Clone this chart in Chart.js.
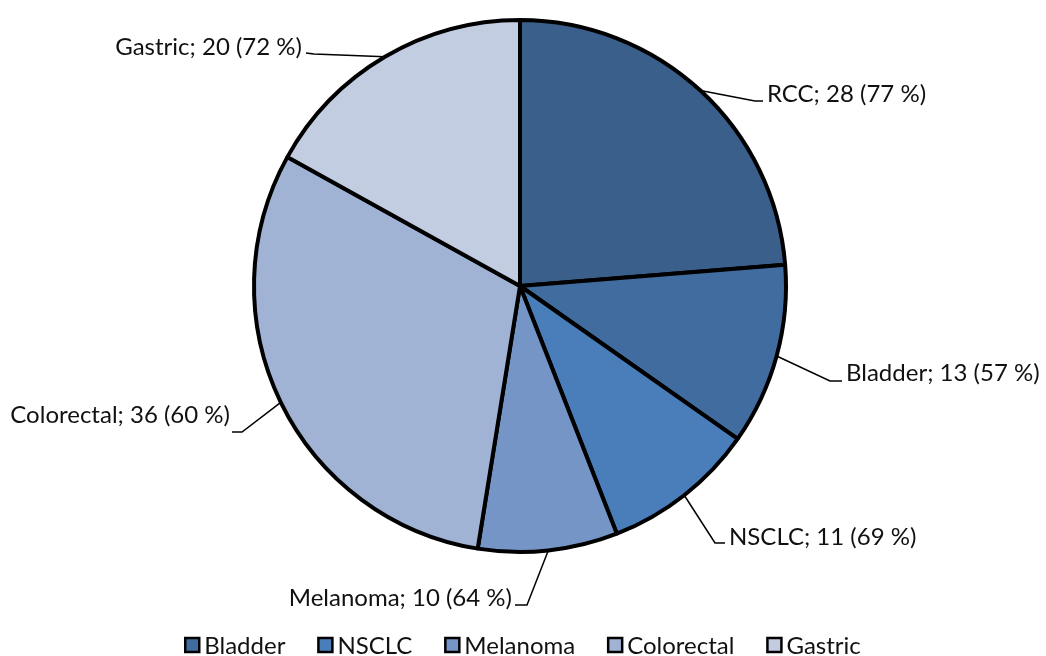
<!DOCTYPE html>
<html>
<head>
<meta charset="utf-8">
<script src="https://cdn.jsdelivr.net/npm/chart.js@4.4.1/dist/chart.umd.min.js"></script>
<style>
  html, body { margin: 0; padding: 0; background: #ffffff; }
  #wrap { width: 1046px; height: 656px; position: relative; }
</style>
</head>
<body>
<div id="wrap"><canvas id="c" width="1046" height="656"></canvas></div>
<script>
// Patients per tumour type, with response rate shown in brackets
const categories = ['RCC', 'Bladder', 'NSCLC', 'Melanoma', 'Colorectal', 'Gastric'];
const patients = [28, 13, 11, 10, 36, 20];
const ratePercent = [77, 57, 69, 64, 60, 72];
const legendCategories = ['Bladder', 'NSCLC', 'Melanoma', 'Colorectal', 'Gastric'];

const sliceColors = ['#3a5f8b', '#416ca0', '#4a7ebb', '#7595c6', '#a1b3d5', '#c3cde2'];

// Leader-line elbows and label anchors, relative to the pie centre
const labelLayout = [
  { elbow: [235, -185], end: [243, -185], text: [247, -192], align: 'left' },
  { elbow: [310, 95],   end: [322, 95],   text: [326, 87],   align: 'left' },
  { elbow: [195, 257],  end: [205, 257],  text: [209, 251],  align: 'left' },
  { elbow: [7, 319],    end: [-5, 319],   text: [-8, 312],   align: 'right' },
  { elbow: [-278, 146], end: [-288, 146], text: [-290, 129], align: 'right' },
  { elbow: [-206, -232], end: [-214, -233], text: [-218, -239], align: 'right' }
];

const FONT = 'Lato, "Open Sans", sans-serif';

const outsideLabels = {
  id: 'outsideLabels',
  afterDatasetsDraw(chart) {
    const ctx = chart.ctx;
    const meta = chart.getDatasetMeta(0);
    ctx.save();
    ctx.font = '24px ' + FONT;
    ctx.fillStyle = '#111111';
    ctx.strokeStyle = '#000000';
    ctx.lineWidth = 1.5;
    ctx.textBaseline = 'middle';
    meta.data.forEach((arc, i) => {
      const p = arc.getProps(['x', 'y', 'startAngle', 'endAngle', 'outerRadius'], true);
      const mid = (p.startAngle + p.endAngle) / 2;
      const ax = p.x + Math.cos(mid) * p.outerRadius;
      const ay = p.y + Math.sin(mid) * p.outerRadius;
      const L = labelLayout[i];
      ctx.beginPath();
      ctx.moveTo(ax, ay);
      ctx.lineTo(p.x + L.elbow[0], p.y + L.elbow[1]);
      ctx.lineTo(p.x + L.end[0], p.y + L.end[1]);
      ctx.stroke();
      ctx.textAlign = L.align;
      const txt = categories[i] + '; ' + patients[i] + ' (' + ratePercent[i] + ' %)';
      ctx.fillText(txt, p.x + L.text[0], p.y + L.text[1]);
    });
    ctx.restore();
  }
};

const bottomLegend = {
  id: 'bottomLegend',
  afterDraw(chart) {
    const ctx = chart.ctx;
    const ds = chart.data.datasets[0];
    ctx.save();
    ctx.font = '24px ' + FONT;
    ctx.textBaseline = 'middle';
    ctx.textAlign = 'left';
    const box = 14, gapBoxText = 5, gapItems = 33, cy = 645;
    const widths = legendCategories.map(n => box + gapBoxText + ctx.measureText(n).width);
    const total = widths.reduce((a, b) => a + b, 0) + gapItems * (widths.length - 1);
    let x = (chart.width - total) / 2;
    legendCategories.forEach((name, k) => {
      const idx = chart.data.labels.indexOf(name);
      ctx.fillStyle = ds.backgroundColor[idx];
      ctx.fillRect(x, cy - box / 2, box, box);
      ctx.lineWidth = 2.5;
      ctx.strokeStyle = '#000000';
      ctx.strokeRect(x, cy - box / 2, box, box);
      ctx.fillStyle = '#111111';
      ctx.fillText(name, x + box + gapBoxText, cy + 1);
      x += widths[k] + gapItems;
    });
    ctx.restore();
  }
};

new Chart(document.getElementById('c'), {
  type: 'pie',
  data: {
    labels: categories,
    datasets: [{
      data: patients,
      backgroundColor: sliceColors,
      borderColor: '#000000',
      borderWidth: 4,
      hoverOffset: 0
    }]
  },
  options: {
    responsive: false,
    animation: false,
    devicePixelRatio: 1,
    layout: { padding: { top: 18, bottom: 102, left: 0, right: 6 } },
    plugins: {
      legend: { display: false },
      tooltip: { enabled: false }
    }
  },
  plugins: [outsideLabels, bottomLegend]
});
</script>
</body>
</html>
